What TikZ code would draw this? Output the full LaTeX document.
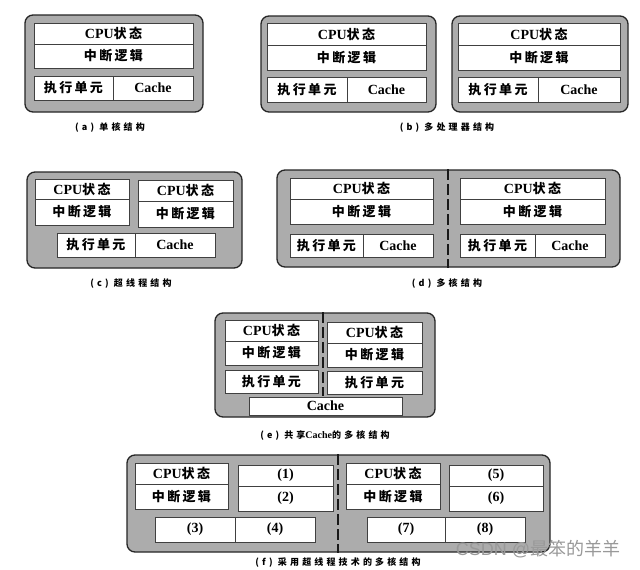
\documentclass[tikz,border=0pt]{standalone}
\usepackage{fontspec}
\setmainfont{Liberation Serif}
\newfontfamily\cjk{Noto Sans CJK SC}[LetterSpace=18]
\newfontfamily\cjkcap{Noto Sans CJK SC}[LetterSpace=35]
\newfontfamily\wmfont{Liberation Sans}
\newfontfamily\wmcjk{Noto Sans CJK SC}
\definecolor{boxgray}{RGB}{172,172,172}
\newcommand\zh[1]{{\cjk\bfseries #1}}
\newcommand\cellbox[6]{\node[cell,minimum width={(#4-#2)*1pt},minimum height={(#5-#3)*1pt}] (#1) at ({(#2+#4)/2},{(#3+#5)/2}) {#6};}
\newcommand\outerbox[5]{\node[outer,minimum width={(#4-#2)*1pt},minimum height={(#5-#3)*1pt}] (#1) at ({(#2+#4)/2},{(#3+#5)/2}) {};}
\newcommand\lat[1]{{\fontsize{14}{15}\selectfont\bfseries #1}}
\newcommand\cpu{\lat{CPU}\zh{状态}}
\newcommand\intr{\zh{中断逻辑}}
\newcommand\exe{\zh{执行单元}}
\newcommand\cache{\lat{Cache}}
\begin{document}
\begin{tikzpicture}[x=1pt,y=-1pt,
  outer/.style={draw=black!85,line width=1.3pt,rounded corners=8pt,fill=boxgray,inner sep=0pt,outer sep=0pt},
  cell/.style={draw=black!75,line width=0.7pt,fill=white,inner sep=0pt,outer sep=0pt,font=\fontsize{13}{15}\selectfont},
  captxt/.style={font=\fontsize{9}{10}\selectfont\cjkcap\bfseries,inner sep=0pt},
  sepline/.style={line width=2.6pt,black!90,dash pattern=on 11pt off 4pt}]
\useasboundingbox (0,0) rectangle (640,570);
\clip (0,0) rectangle (640,570);
\fill[white] (0,0) rectangle (640,570);
% (a)
\outerbox{A}{25}{15}{203}{112}
\cellbox{a1}{34}{23}{193}{44}{\cpu}
\cellbox{a2}{34}{44}{193}{68}{\intr}
\cellbox{a3}{34}{76}{113}{100}{\exe}
\cellbox{a4}{113}{76}{193}{100}{\cache}
\node[captxt] (capa) at (110,128) {(a)\ 单核结构};
% (b)
\outerbox{B1}{261}{16}{436}{112}
\cellbox{b1}{267}{23}{426}{45}{\cpu}
\cellbox{b2}{267}{45}{426}{70}{\intr}
\cellbox{b3}{267}{77}{347}{102}{\exe}
\cellbox{b4}{347}{77}{426}{102}{\cache}
\outerbox{B2}{452}{16}{628}{112}
\cellbox{b5}{458}{23}{620}{45}{\cpu}
\cellbox{b6}{458}{45}{620}{70}{\intr}
\cellbox{b7}{458}{77}{538}{102}{\exe}
\cellbox{b8}{538}{77}{620}{102}{\cache}
\node[captxt] (capb) at (447,128) {(b)\ 多处理器结构};
% (c)
\outerbox{C}{27}{172}{242}{268}
\cellbox{c1}{35}{179}{129}{199}{\cpu}
\cellbox{c2}{35}{199}{129}{225}{\intr}
\cellbox{c3}{138}{180}{233}{201}{\cpu}
\cellbox{c4}{138}{201}{233}{227}{\intr}
\cellbox{c5}{57}{233}{135}{257}{\exe}
\cellbox{c6}{135}{233}{215}{257}{\cache}
\node[captxt] (capc) at (131,284) {(c)\ 超线程结构};
% (d)
\outerbox{D}{277}{170}{620}{267}
\cellbox{d1}{290}{178}{433}{199}{\cpu}
\cellbox{d2}{290}{199}{433}{224}{\intr}
\cellbox{d3}{290}{234}{363}{257}{\exe}
\cellbox{d4}{363}{234}{433}{257}{\cache}
\cellbox{d5}{460}{178}{605}{199}{\cpu}
\cellbox{d6}{460}{199}{605}{224}{\intr}
\cellbox{d7}{460}{234}{535}{257}{\exe}
\cellbox{d8}{535}{234}{605}{257}{\cache}
\coordinate (dtop) at (448,169);
\coordinate (dbot) at (448,268);
\draw[sepline] (dtop) -- (dbot);
\node[captxt] (capd) at (447,284) {(d)\ 多核结构};
% (e)
\outerbox{E}{215}{313}{435}{417}
\cellbox{e1}{225}{320}{318}{341}{\cpu}
\cellbox{e2}{225}{341}{318}{365}{\intr}
\cellbox{e3}{225}{370}{318}{393}{\exe}
\cellbox{e4}{327}{322}{422}{343}{\cpu}
\cellbox{e5}{327}{343}{422}{367}{\intr}
\cellbox{e6}{327}{371}{422}{394}{\exe}
\cellbox{e7}{249}{397}{402}{415}{\cache}
\coordinate (etop) at (323,312);
\coordinate (ebot) at (323,396);
\draw[sepline] (etop) -- (ebot);
\node[captxt] (cape) at (325,436) {(e)\ 共享{\fontspec{Liberation Serif}\bfseries\fontsize{10}{11}\selectfont Cache}的多核结构};
% (f)
\outerbox{F}{127}{455}{550}{552}
\cellbox{f1}{135}{463}{228}{484}{\cpu}
\cellbox{f2}{135}{484}{228}{509}{\intr}
\cellbox{f3}{238}{465}{333}{486}{\lat{(1)}}
\cellbox{f4}{238}{486}{333}{511}{\lat{(2)}}
\cellbox{f5}{155}{517}{235}{542}{\lat{(3)}}
\cellbox{f6}{235}{517}{315}{542}{\lat{(4)}}
\cellbox{f7}{346}{463}{440}{484}{\cpu}
\cellbox{f8}{346}{484}{440}{509}{\intr}
\cellbox{f9}{449}{465}{543}{486}{\lat{(5)}}
\cellbox{f10}{449}{486}{543}{511}{\lat{(6)}}
\cellbox{f11}{367}{517}{445}{542}{\lat{(7)}}
\cellbox{f12}{445}{517}{525}{542}{\lat{(8)}}
\coordinate (ftop) at (338,454);
\coordinate (fbot) at (338,553);
\draw[sepline] (ftop) -- (fbot);
\node[captxt] (capf) at (338,563) {(f)\ 采用超线程技术的多核结构};
\node[text=black!40,inner sep=0pt,font=\fontsize{18}{20}\selectfont] (wm) at (538,549) {\wmfont CSDN @\wmcjk 最笨的羊羊};
\end{tikzpicture}
\end{document}
